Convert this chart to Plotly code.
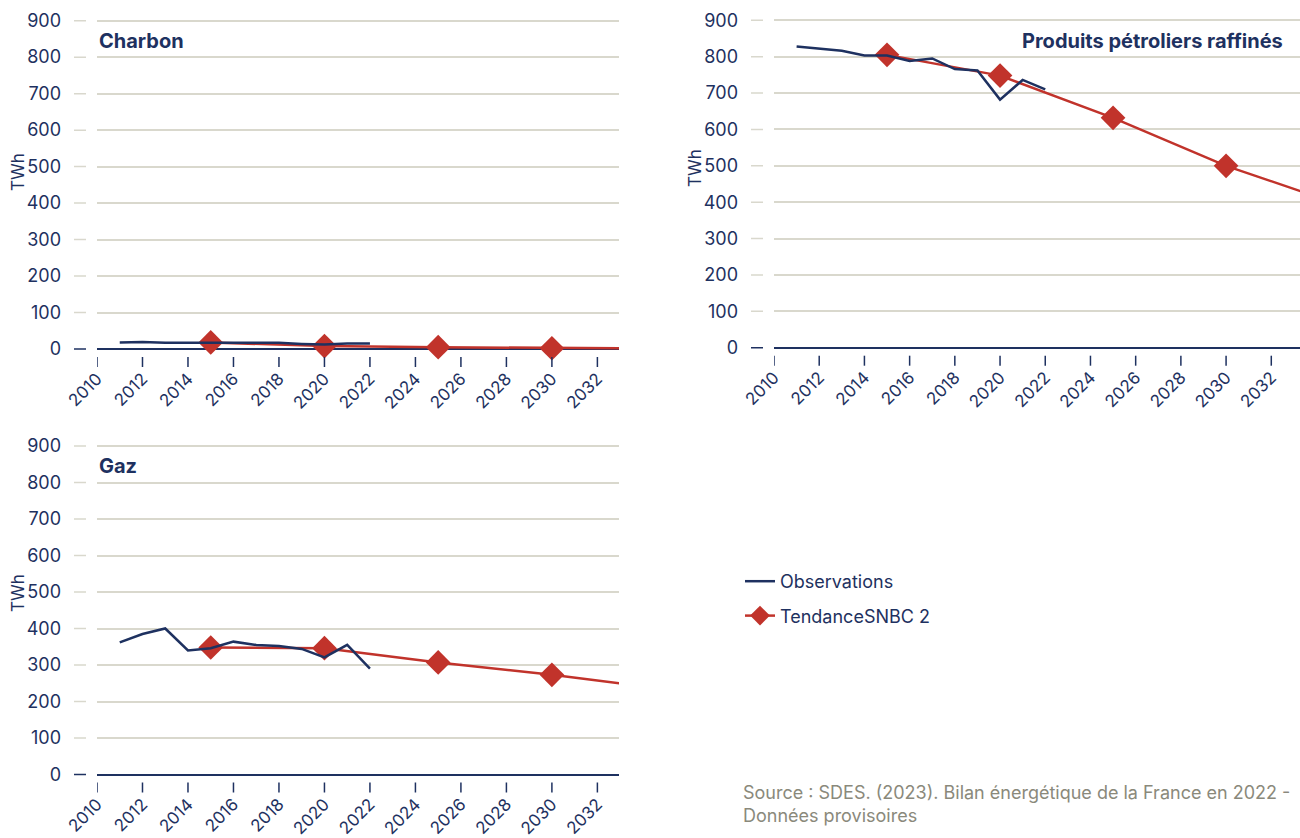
import plotly.graph_objects as go

# ---------------- data ----------------
years_obs = list(range(2011, 2023))
charbon_obs = [18, 19, 17, 17, 17, 17, 17, 17, 14, 12, 15, 15]
petrole_obs = [828, 822, 816, 803, 803, 788, 795, 766, 762, 682, 736, 710]
gaz_obs = [362, 385, 400, 340, 346, 364, 355, 352, 344, 321, 355, 290]

years_snbc = [2015, 2020, 2025, 2030, 2035]
charbon_snbc = [18, 8, 5, 2, 1]
petrole_snbc = [805, 748, 632, 500, 394]
gaz_snbc = [348, 346, 307, 273, 234]
snbc_has_marker = [True, True, True, True, False]

y_ticks = list(range(0, 1000, 100))
x_ticks = list(range(2010, 2034, 2))
panel_titles = ["Charbon", "Produits pétroliers raffinés", "Gaz"]
series_names = ["Observations", "TendanceSNBC 2"]
source_lines = ["Source : SDES. (2023). Bilan énergétique de la France en 2022 -",
                "Données provisoires"]

# ---------------- style ----------------
W, H = 1300, 838
NAVY = "#1e3160"
RED = "#c1332b"
GRID = "#d9d8cd"
GREY_TXT = "#8a897b"
FONT = "Inter"

# panel geometry in pixels
panels = [
    dict(left=97, right=619, top=20.7, zero=349.0, xmax=2032.95,
         title_x=97, title_y=41, title_anchor="left", twh=(18, 172)),
    dict(left=774, right=1300, top=20.3, zero=347.7, xmax=2033.27,
         title_x=1285, title_y=41, title_anchor="right", twh=(695, 168)),
    dict(left=97, right=619, top=446.0, zero=774.5, xmax=2032.95,
         title_x=97, title_y=466, title_anchor="left", twh=(18, 593)),
]
obs_data = [charbon_obs, petrole_obs, gaz_obs]
snbc_data = [charbon_snbc, petrole_snbc, gaz_snbc]
YMIN, YMAX = -10, 910

fig = go.Figure()
shapes = []
annotations = []
layout_axes = {}

for i, p in enumerate(panels):
    n = i + 1
    xs = "" if n == 1 else str(n)
    ppu = (p["zero"] - p["top"]) / 900.0
    bottom_px = p["zero"] - YMIN * ppu
    top_px = p["top"] - (YMAX - 900) * ppu
    ydom = [1 - bottom_px / H, 1 - top_px / H]
    xdom = [p["left"] / W, p["right"] / W]

    layout_axes["xaxis" + xs] = dict(
        domain=xdom, range=[2010, p["xmax"]], anchor="y" + xs,
        automargin=False,
        showgrid=False, zeroline=False, showline=False,
        tickvals=x_ticks, ticktext=[str(t) for t in x_ticks],
        tickangle=-45, ticks="", ticklabelstandoff=12,
        tickfont=dict(family=FONT, size=17, color=NAVY), fixedrange=True)
    layout_axes["yaxis" + xs] = dict(
        domain=ydom, range=[YMIN, YMAX], anchor="x" + xs,
        automargin=False,
        showgrid=True, gridcolor=GRID, gridwidth=1.5,
        zeroline=True, zerolinecolor=NAVY, zerolinewidth=2,
        showline=False, tickvals=y_ticks, ticks="", ticklabelstandoff=35,
        tickfont=dict(family=FONT, size=18, color=NAVY), fixedrange=True)

    # SNBC trend (line + diamonds on 5-year points)
    fig.add_trace(go.Scatter(
        x=years_snbc, y=snbc_data[i], mode="lines+markers",
        name=series_names[1], legendrank=2, legendgroup="snbc",
        showlegend=(i == 0),
        line=dict(color=RED, width=2.5),
        marker=dict(symbol="diamond", color=RED, opacity=1,
                    line=dict(width=0),
                    size=[19 if m else 0 for m in snbc_has_marker]),
        cliponaxis=False, hoverinfo="skip",
        xaxis="x" + xs, yaxis="y" + xs))
    # observations
    fig.add_trace(go.Scatter(
        x=years_obs, y=obs_data[i], mode="lines",
        name=series_names[0], legendrank=1, legendgroup="obs",
        showlegend=(i == 0),
        line=dict(color=NAVY, width=2.5),
        hoverinfo="skip", xaxis="x" + xs, yaxis="y" + xs))

    # y tick dashes (detached from the plot area)
    for v in y_ticks:
        shapes.append(dict(type="line", xref="paper", yref="y" + xs,
                           x0=(p["left"] - 23) / W, x1=(p["left"] - 11) / W,
                           y0=v, y1=v, layer="above",
                           line=dict(color=NAVY if v == 0 else GRID, width=1.5)))
    # x tick marks (detached below the zero line)
    for t in x_ticks:
        shapes.append(dict(type="line", xref="x" + xs, yref="paper",
                           x0=t, x1=t,
                           y0=1 - (p["zero"] + 8) / H, y1=1 - (p["zero"] + 18) / H,
                           line=dict(color=NAVY, width=1.5)))

    # panel title
    annotations.append(dict(
        text="<b>" + panel_titles[i] + "</b>", xref="paper", yref="paper",
        x=p["title_x"] / W, y=1 - p["title_y"] / H,
        xanchor=p["title_anchor"], yanchor="middle", showarrow=False,
        font=dict(family=FONT, size=20, color=NAVY)))
    # unit label
    annotations.append(dict(
        text="TWh", xref="paper", yref="paper",
        x=p["twh"][0] / W, y=1 - p["twh"][1] / H, textangle=-90,
        xanchor="center", yanchor="middle", showarrow=False,
        font=dict(family=FONT, size=17, color=NAVY)))

annotations.append(dict(
    text="<br>".join(source_lines), xref="paper", yref="paper",
    x=741 / W, y=1 - 780 / H, xanchor="left", yanchor="top", align="left",
    showarrow=False, font=dict(family=FONT, size=18, color=GREY_TXT)))

fig.update_layout(
    width=W, height=H, margin=dict(l=0, r=0, t=0, b=0),
    paper_bgcolor="white", plot_bgcolor="white",
    shapes=shapes, annotations=annotations,
    legend=dict(x=740 / W, y=1 - 563 / H, xanchor="left", yanchor="top",
                traceorder="grouped", tracegroupgap=8,
                bgcolor="rgba(0,0,0,0)", font=dict(family=FONT, size=18, color=NAVY),
                itemwidth=30),
    showlegend=True,
    **layout_axes)

fig.write_html("out.html", config={"displayModeBar": False},
               post_script="document.body.style.margin='0';")
